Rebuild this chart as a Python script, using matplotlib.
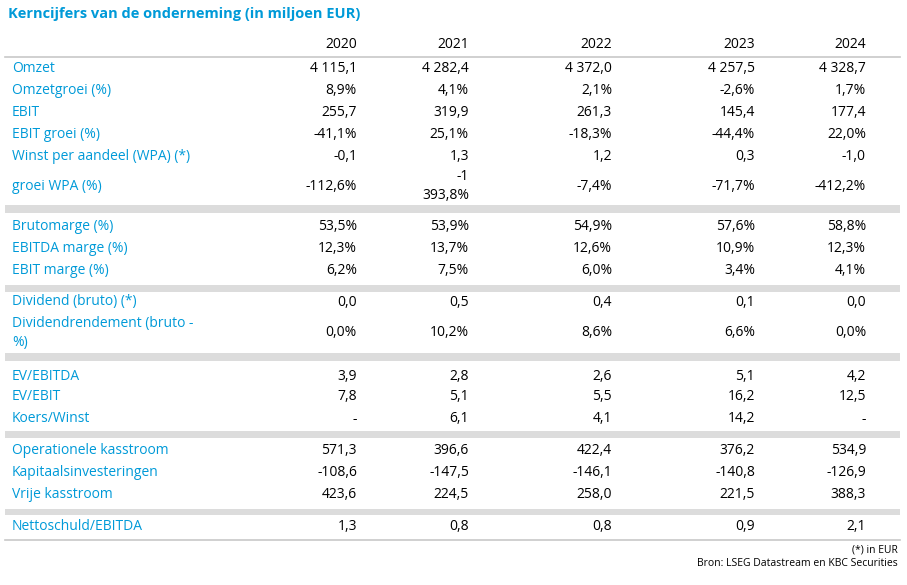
import matplotlib.pyplot as plt

plt.rcParams['font.family'] = ['Open Sans', 'DejaVu Sans']

blue = '#009AD8'
title = 'Kerncijfers van de onderneming (in miljoen EUR)'
years = ['2020', '2021', '2022', '2023', '2024']

labels = ['Omzet', 'Omzetgroei (%)', 'EBIT', 'EBIT groei (%)', 'Winst per aandeel (WPA) (*)',
          'groei WPA (%)',
          'Brutomarge (%)', 'EBITDA marge (%)', 'EBIT marge (%)',
          'Dividend (bruto) (*)', 'Dividendrendement (bruto -\n%)',
          'EV/EBITDA', 'EV/EBIT', 'Koers/Winst',
          'Operationele kasstroom', 'Kapitaalsinvesteringen', 'Vrije kasstroom',
          'Nettoschuld/EBITDA']
values = [
    ['4 115,1', '4 282,4', '4 372,0', '4 257,5', '4 328,7'],
    ['8,9%', '4,1%', '2,1%', '-2,6%', '1,7%'],
    ['255,7', '319,9', '261,3', '145,4', '177,4'],
    ['-41,1%', '25,1%', '-18,3%', '-44,4%', '22,0%'],
    ['-0,1', '1,3', '1,2', '0,3', '-1,0'],
    ['-112,6%', '-1\n393,8%', '-7,4%', '-71,7%', '-412,2%'],
    ['53,5%', '53,9%', '54,9%', '57,6%', '58,8%'],
    ['12,3%', '13,7%', '12,6%', '10,9%', '12,3%'],
    ['6,2%', '7,5%', '6,0%', '3,4%', '4,1%'],
    ['0,0', '0,5', '0,4', '0,1', '0,0'],
    ['0,0%', '10,2%', '8,6%', '6,6%', '0,0%'],
    ['3,9', '2,8', '2,6', '5,1', '4,2'],
    ['7,8', '5,1', '5,5', '16,2', '12,5'],
    ['-', '6,1', '4,1', '14,2', '-'],
    ['571,3', '396,6', '422,4', '376,2', '534,9'],
    ['-108,6', '-147,5', '-146,1', '-140,8', '-126,9'],
    ['423,6', '224,5', '258,0', '221,5', '388,3'],
    ['1,3', '0,8', '0,8', '0,9', '2,1'],
]

# layout (pixel positions)
row_y = [68, 90, 112, 134, 157, 186, 227, 249, 271, 302, 333, 376, 397, 419, 451, 473, 495, 527]
bands = [(205, 213), (285, 292), (353, 361), (431, 438), (509, 515)]
col_right = [357, 469, 612, 755, 866]
fs = 10

fig = plt.figure(figsize=(9.07, 5.85), dpi=100)
ax = fig.add_axes([0, 0, 1, 1])
ax.set_xlim(0, 907)
ax.set_ylim(585, 0)
ax.axis('off')

ax.text(8, 14, title, color=blue, fontsize=10.5, fontweight='bold', va='center')
for x, yr in zip(col_right, years):
    ax.text(x, 45, yr, ha='right', va='center', fontsize=fs)
ax.plot([5, 900], [57, 57], color='#C8C8C8', lw=1.2)

for yc, label, vals in zip(row_y, labels, values):
    ax.text(12, yc, label, color=blue, fontsize=fs, va='center', linespacing=1.3)
    for x, v in zip(col_right, vals):
        ax.text(x, yc, v, ha='right', va='center', fontsize=fs, linespacing=1.3)

for y0, y1 in bands:
    ax.add_patch(plt.Rectangle((5, y0), 895, y1 - y0, color='#DCDCDC', lw=0))
ax.plot([5, 900], [540, 540], color='#C8C8C8', lw=1.2)

ax.text(898, 550, '(*) in EUR', ha='right', va='center', fontsize=7.5)
ax.text(898, 564, 'Bron: LSEG Datastream en KBC Securities', ha='right', va='center', fontsize=7.5)

fig.savefig('out.png', dpi=100)
